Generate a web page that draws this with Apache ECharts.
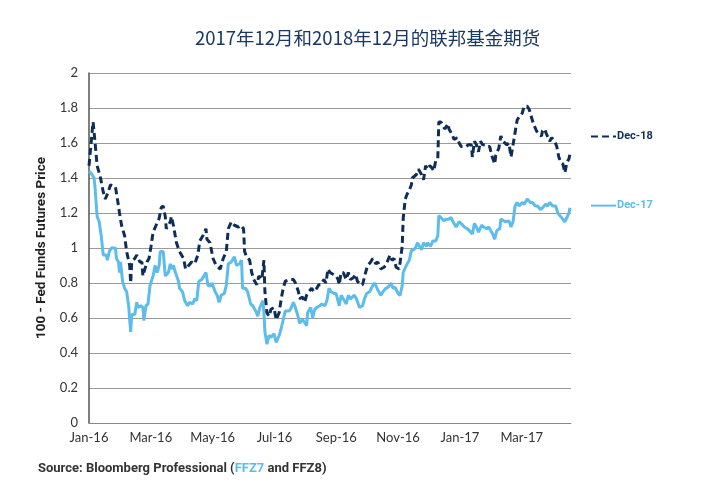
<!DOCTYPE html>
<html>
<head>
<meta charset="utf-8">
<script src="https://cdn.jsdelivr.net/npm/echarts@6/dist/echarts.min.js"></script>
<style>
  html, body { margin: 0; padding: 0; background: #fff; }
  #chart { width: 720px; height: 500px; }
</style>
</head>
<body>
<div id="chart"></div>
<script>
// Tick labels on the x axis (every two months, day offset from 1 Jan 2016)
const monthLabels = ['Jan-16', 'Mar-16', 'May-16', 'Jul-16', 'Sep-16', 'Nov-16', 'Jan-17', 'Mar-17'];
const monthStep = 60.8;

// Dec-18 contract (FFZ8): day offset since 1 Jan 2016, and 100 - price
const dec18Days = [
  0,4,6,8,11,14,16,19,21,26,
  29,30,32,35,37,40,41,42,45,47,
  50,52,53,57,59,61,63,66,69,71,
  73,75,76,80,81,83,86,89,93,95,
  98,101,104,107,109,112,115,116,119,122,
  125,129,132,135,137,140,143,147,149,152,
  153,155,158,160,162,165,167,170,172,173,
  175,177,179,182,184,187,189,191,193,197,
  201,203,206,207,210,212,214,216,219,221,
  224,226,228,231,233,235,237,240,243,245,
  246,248,250,253,255,257,260,262,264,267,
  269,272,274,277,279,282,284,287,290,292,
  296,298,300,302,305,306,308,309,311,313,
  315,317,318,320,322,324,327,329,331,333,
  335,337,339,341,343,344,346,348,350,353,
  354,357,359,362,364,366,368,371,373,376,
  377,379,381,383,385,387,390,392,394,396,
  399,400,403,405,407,409,411,413,415,417,
  418,419,421,423,426,428,431,433,435,437,
  440,442,445,446,448,450,453,455,458,460,
  462,464,466,468,470,472,473
];
const dec18Values = [
  1.47,1.72,1.60,1.47,1.41,1.32,1.28,1.32,1.36,1.35,
  1.24,1.20,1.13,1.07,0.98,0.90,0.80,0.92,0.94,0.96,
  0.92,0.92,0.84,0.92,0.94,1.01,1.09,1.13,1.17,1.23,
  1.24,1.18,1.11,1.15,1.18,1.13,1.03,0.98,0.94,0.88,
  0.90,0.92,0.91,0.96,1.04,1.07,1.11,1.05,1.03,0.94,
  0.90,0.88,0.94,0.98,1.11,1.15,1.13,1.12,1.13,1.11,
  0.98,0.95,0.93,0.86,0.82,0.79,0.84,0.82,0.93,0.75,
  0.63,0.61,0.65,0.66,0.59,0.63,0.71,0.77,0.81,0.82,
  0.82,0.80,0.75,0.71,0.72,0.69,0.73,0.75,0.77,0.75,
  0.77,0.79,0.79,0.82,0.80,0.88,0.86,0.85,0.84,0.82,
  0.79,0.86,0.86,0.82,0.86,0.82,0.83,0.85,0.81,0.79,
  0.79,0.86,0.90,0.92,0.94,0.91,0.92,0.88,0.89,0.90,
  0.96,0.93,0.94,0.89,0.88,0.92,1.01,1.17,1.28,1.31,
  1.33,1.36,1.40,1.41,1.42,1.45,1.42,1.39,1.47,1.45,
  1.47,1.46,1.44,1.50,1.51,1.72,1.72,1.70,1.68,1.71,
  1.68,1.65,1.62,1.63,1.60,1.58,1.58,1.58,1.59,1.59,
  1.52,1.61,1.59,1.55,1.61,1.59,1.59,1.58,1.58,1.53,
  1.48,1.53,1.57,1.64,1.61,1.60,1.59,1.60,1.52,1.59,
  1.58,1.66,1.73,1.75,1.77,1.81,1.81,1.79,1.75,1.71,
  1.67,1.65,1.64,1.67,1.68,1.65,1.61,1.63,1.61,1.58,
  1.52,1.49,1.48,1.43,1.49,1.51,1.54
];

// Dec-17 contract (FFZ7)
const dec17Days = [
  0,3,5,6,8,10,12,14,17,18,
  20,22,26,27,29,30,31,33,35,37,
  39,40,41,42,45,47,48,51,53,54,
  56,58,60,63,65,67,69,70,73,75,
  78,80,81,83,85,88,89,92,94,97,
  99,102,104,106,108,111,113,115,117,120,
  121,124,126,128,130,133,135,137,140,143,
  145,148,150,151,154,156,159,161,164,166,
  168,171,172,173,175,177,179,182,184,187,
  189,191,193,197,199,201,203,206,207,210,
  212,214,215,218,220,222,224,227,229,232,
  234,236,238,241,243,246,248,250,253,255,
  257,259,261,263,266,269,271,273,276,279,
  281,284,287,289,292,294,297,299,301,304,
  306,308,309,312,315,317,319,321,323,325,
  327,329,332,333,336,338,341,343,344,346,
  349,351,354,356,358,361,364,366,369,372,
  374,377,379,381,383,386,388,391,393,395,
  397,399,401,404,405,408,410,413,415,417,
  419,421,423,426,428,431,434,436,439,441,
  444,446,449,451,453,456,459,461,463,466,
  468,470,472,473
];
const dec17Values = [
  1.44,1.42,1.40,1.34,1.18,1.15,1.07,0.96,0.96,0.93,
  0.98,1.00,1.00,0.94,0.92,0.86,0.92,0.81,0.77,0.75,
  0.67,0.59,0.52,0.62,0.62,0.69,0.66,0.67,0.66,0.585,
  0.67,0.68,0.785,0.84,0.90,0.86,0.90,0.98,0.98,0.84,
  0.86,0.91,0.88,0.90,0.86,0.81,0.77,0.75,0.70,0.67,
  0.69,0.68,0.71,0.70,0.81,0.82,0.84,0.86,0.785,0.785,
  0.80,0.75,0.73,0.69,0.73,0.74,0.785,0.91,0.92,0.95,
  0.90,0.91,0.93,0.77,0.77,0.75,0.68,0.67,0.64,0.61,
  0.66,0.70,0.63,0.52,0.45,0.50,0.49,0.51,0.46,0.50,
  0.54,0.59,0.64,0.64,0.66,0.69,0.66,0.60,0.57,0.59,
  0.575,0.556,0.63,0.66,0.60,0.65,0.66,0.67,0.68,0.67,
  0.70,0.77,0.75,0.74,0.74,0.67,0.73,0.71,0.68,0.73,
  0.71,0.72,0.73,0.71,0.66,0.67,0.71,0.74,0.75,0.785,
  0.80,0.76,0.73,0.75,0.77,0.775,0.80,0.77,0.775,0.74,
  0.73,0.785,0.86,0.90,0.93,0.985,0.99,1.00,1.03,1.01,
  0.99,1.03,1.01,1.03,1.01,1.04,1.04,1.07,1.185,1.175,
  1.155,1.165,1.165,1.175,1.15,1.12,1.15,1.14,1.12,1.11,
  1.10,1.08,1.14,1.12,1.09,1.13,1.12,1.11,1.12,1.10,
  1.08,1.05,1.10,1.11,1.165,1.155,1.15,1.155,1.12,1.15,
  1.24,1.26,1.24,1.26,1.25,1.28,1.26,1.26,1.24,1.24,
  1.22,1.23,1.25,1.24,1.26,1.24,1.24,1.20,1.185,1.165,
  1.15,1.175,1.20,1.23
];

const navy = '#0e2d57';
const lightBlue = '#5cbcec';

function pairs(xs, ys) { return xs.map((x, i) => [x, ys[i]]); }

const chart = echarts.init(document.getElementById('chart'), null, { renderer: 'canvas' });
chart.setOption({
  animation: false,
  backgroundColor: '#ffffff',
  title: {
    text: '2017年12月和2018年12月的联邦基金期货',
    left: 190,
    top: 24,
    textStyle: { fontFamily: 'Noto Sans CJK SC', fontSize: 18.5, fontWeight: 'normal', color: '#1b3864' }
  },
  grid: { left: 89, right: 149, top: 73, bottom: 77, containLabel: false },
  legend: [
    {
      data: ['Dec-18'], left: 585, top: 126, itemWidth: 25, itemHeight: 14, itemGap: 0,
      itemStyle: { opacity: 0 },
      textStyle: { fontFamily: 'Roboto', fontWeight: 'bold', fontSize: 11, color: navy, padding: [0, 0, 0, -4] }
    },
    {
      data: ['Dec-17'], left: 585, top: 195, itemWidth: 25, itemHeight: 14, itemGap: 0,
      itemStyle: { opacity: 0 },
      textStyle: { fontFamily: 'Roboto', fontWeight: 'bold', fontSize: 11, color: lightBlue, padding: [0, 0, 0, -4] }
    }
  ],
  xAxis: {
    type: 'value',
    min: 0,
    max: 474,
    interval: monthStep,
    axisLine: { show: true, lineStyle: { color: '#888', width: 1 } },
    axisTick: { show: false },
    splitLine: { show: false },
    axisLabel: {
      showMaxLabel: false,
      margin: 8,
      fontFamily: 'Lato', fontSize: 13, color: '#333',
      formatter: function (v) {
        const k = Math.round(v / monthStep);
        return Math.abs(v - k * monthStep) < 0.5 && monthLabels[k] ? monthLabels[k] : '';
      }
    }
  },
  yAxis: {
    type: 'value',
    min: 0,
    max: 2,
    interval: 0.2,
    name: '100 - Fed Funds Futures Price',
    nameLocation: 'middle',
    nameGap: 35,
    nameTextStyle: { fontFamily: 'Roboto', fontWeight: 'bold', fontSize: 13.5, color: '#222' },
    axisLine: { show: true, lineStyle: { color: '#555', width: 1.5 } },
    axisTick: { show: false },
    splitLine: { show: true, lineStyle: { color: '#9a9a9a', width: 1 } },
    axisLabel: { margin: 11, fontFamily: 'Lato', fontSize: 13, color: '#333' }
  },
  series: [
    {
      name: 'Dec-18',
      type: 'line',
      data: pairs(dec18Days, dec18Values),
      symbol: 'none',
      lineStyle: { color: navy, width: 3, type: [7, 4] },
      itemStyle: { color: navy },
      z: 3
    },
    {
      name: 'Dec-17',
      type: 'line',
      data: pairs(dec17Days, dec17Values),
      symbol: 'none',
      lineStyle: { color: lightBlue, width: 3, type: 'solid' },
      itemStyle: { color: lightBlue },
      z: 2
    }
  ],
  graphic: [
    {
      type: 'text',
      left: 38,
      top: 462,
      style: {
        text: '{a|Source: Bloomberg Professional (}{b|FFZ7}{a| and FFZ8)}',
        rich: {
          a: { fontFamily: 'Roboto', fontWeight: 'bold', fontSize: 13, fill: '#333' },
          b: { fontFamily: 'Roboto', fontWeight: 'bold', fontSize: 13, fill: lightBlue }
        }
      }
    }
  ]
});
</script>
</body>
</html>
